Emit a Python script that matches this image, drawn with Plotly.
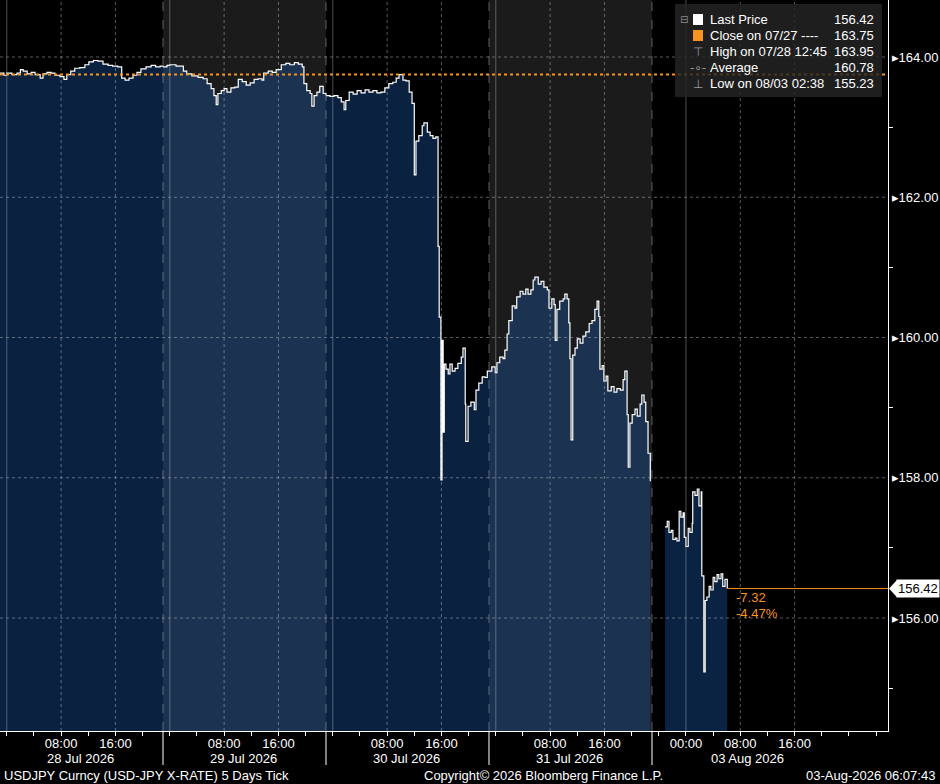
import plotly.graph_objects as go

# USDJPY 5 day tick chart, one list pair per session (sessions roll at 23:00)
YEAR = "2026-"

s1_time = ["07-27 23:00", "07-27 23:35", "07-28 00:00", "07-28 00:45", "07-28 01:30", "07-28 02:00",
           "07-28 02:25", "07-28 03:00", "07-28 03:35", "07-28 04:10", "07-28 04:55", "07-28 05:20",
           "07-28 05:55", "07-28 06:30", "07-28 07:05", "07-28 07:50", "07-28 08:25", "07-28 08:50",
           "07-28 09:25", "07-28 10:00", "07-28 10:45", "07-28 11:30", "07-28 12:05", "07-28 12:45",
           "07-28 13:25", "07-28 14:10", "07-28 14:55", "07-28 15:35", "07-28 16:20", "07-28 16:55",
           "07-28 17:25", "07-28 18:00", "07-28 18:35", "07-28 19:10", "07-28 19:45", "07-28 20:30",
           "07-28 21:15", "07-28 21:55", "07-28 22:35", "07-28 23:00"]
s1_px = [163.77, 163.74, 163.77, 163.75, 163.77, 163.82, 163.80, 163.76, 163.78, 163.75, 163.70, 163.76,
         163.78, 163.77, 163.74, 163.72, 163.68, 163.75, 163.80, 163.84, 163.85, 163.89, 163.93, 163.95,
         163.94, 163.90, 163.88, 163.87, 163.86, 163.70, 163.67, 163.70, 163.74, 163.78, 163.83, 163.86,
         163.88, 163.86, 163.87, 163.86]

s2_time = ["07-28 23:00", "07-28 23:35", "07-29 00:00", "07-29 00:55", "07-29 02:00", "07-29 02:30",
           "07-29 03:15", "07-29 04:10", "07-29 04:55", "07-29 05:30", "07-29 06:05", "07-29 06:30",
           "07-29 06:50", "07-29 07:05", "07-29 07:35", "07-29 08:00", "07-29 08:25", "07-29 09:00",
           "07-29 09:35", "07-29 10:05", "07-29 10:40", "07-29 11:15", "07-29 11:50", "07-29 12:25",
           "07-29 13:00", "07-29 13:35", "07-29 13:50", "07-29 14:30", "07-29 15:05", "07-29 15:40",
           "07-29 16:25", "07-29 17:05", "07-29 17:40", "07-29 18:20", "07-29 18:55", "07-29 19:30",
           "07-29 19:45", "07-29 20:10", "07-29 20:40", "07-29 20:55", "07-29 21:15", "07-29 21:40",
           "07-29 22:05", "07-29 22:35", "07-29 23:00"]
s2_px = [163.86, 163.88, 163.89, 163.87, 163.80, 163.76, 163.73, 163.71, 163.69, 163.62, 163.55, 163.45,
         163.32, 163.48, 163.52, 163.55, 163.50, 163.56, 163.57, 163.68, 163.65, 163.60, 163.63, 163.68,
         163.69, 163.67, 163.77, 163.80, 163.78, 163.82, 163.89, 163.91, 163.89, 163.92, 163.90, 163.86,
         163.62, 163.52, 163.48, 163.30, 163.45, 163.50, 163.58, 163.48, 163.45]

s3_time = ["07-29 23:00", "07-29 23:35", "07-30 00:10", "07-30 00:45", "07-30 01:15", "07-30 01:40",
           "07-30 01:55", "07-30 02:25", "07-30 03:00", "07-30 03:35", "07-30 04:10", "07-30 04:45",
           "07-30 05:20", "07-30 05:55", "07-30 06:30", "07-30 07:05", "07-30 07:40", "07-30 08:15",
           "07-30 08:50", "07-30 09:20", "07-30 09:45", "07-30 10:20", "07-30 10:45", "07-30 11:15",
           "07-30 11:40", "07-30 12:00", "07-30 12:15", "07-30 12:40", "07-30 13:10", "07-30 13:25",
           "07-30 13:55", "07-30 14:20", "07-30 14:45", "07-30 15:10", "07-30 15:30", "07-30 15:40",
           "07-30 15:55", "07-30 16:05", "07-30 16:15", "07-30 16:25", "07-30 16:40", "07-30 17:00",
           "07-30 17:15", "07-30 17:35", "07-30 18:00", "07-30 18:25", "07-30 18:55", "07-30 19:10",
           "07-30 19:30", "07-30 19:35", "07-30 19:55", "07-30 20:20", "07-30 20:50", "07-30 21:05",
           "07-30 21:30", "07-30 22:00", "07-30 22:25", "07-30 22:45", "07-30 23:00"]
s3_px = [163.45, 163.44, 163.45, 163.42, 163.36, 163.25, 163.38, 163.50, 163.47, 163.52, 163.49, 163.53,
         163.50, 163.52, 163.49, 163.50, 163.56, 163.62, 163.64, 163.70, 163.75, 163.67, 163.66, 163.50,
         163.34, 162.32, 162.80, 162.88, 163.02, 163.06, 162.93, 162.88, 162.84, 162.86, 161.30, 160.29,
         157.97, 159.96, 158.65, 159.62, 159.55, 159.48, 159.62, 159.52, 159.56, 159.63, 159.72, 159.85,
         159.05, 158.52, 159.02, 159.08, 158.97, 159.25, 159.35, 159.44, 159.43, 159.52, 159.52]

s4_time = ["07-30 23:00", "07-30 23:25", "07-30 23:55", "07-31 00:10", "07-31 00:35", "07-31 01:05",
           "07-31 01:20", "07-31 01:40", "07-31 01:55", "07-31 02:25", "07-31 02:50", "07-31 03:05",
           "07-31 03:35", "07-31 04:00", "07-31 04:25", "07-31 04:45", "07-31 05:10", "07-31 05:30",
           "07-31 05:45", "07-31 06:15", "07-31 06:40", "07-31 07:05", "07-31 07:35", "07-31 07:50",
           "07-31 08:15", "07-31 08:35", "07-31 08:45", "07-31 09:00", "07-31 09:25", "07-31 09:55",
           "07-31 10:10", "07-31 10:30", "07-31 10:45", "07-31 10:55", "07-31 11:05", "07-31 11:20",
           "07-31 11:40", "07-31 12:00", "07-31 12:25", "07-31 12:50", "07-31 13:15", "07-31 13:45",
           "07-31 14:10", "07-31 14:35", "07-31 14:55", "07-31 15:10", "07-31 15:20", "07-31 15:40",
           "07-31 15:55", "07-31 16:15", "07-31 16:30", "07-31 17:00", "07-31 17:25", "07-31 17:50",
           "07-31 18:20", "07-31 18:45", "07-31 19:00", "07-31 19:20", "07-31 19:30", "07-31 19:45",
           "07-31 20:05", "07-31 20:30", "07-31 20:50", "07-31 21:15", "07-31 21:30", "07-31 21:50",
           "07-31 22:05", "07-31 22:25", "07-31 22:45", "07-31 23:00"]
s4_px = [159.52, 159.58, 159.50, 159.64, 159.72, 159.70, 159.82, 160.05, 160.24, 160.45, 160.42, 160.58,
         160.66, 160.62, 160.69, 160.62, 160.68, 160.82, 160.86, 160.76, 160.80, 160.72, 160.68, 160.42,
         160.55, 160.47, 159.96, 160.40, 160.52, 160.55, 160.62, 160.55, 160.21, 159.70, 158.54, 159.75,
         159.85, 159.98, 159.92, 160.02, 160.08, 160.20, 160.24, 160.40, 160.52, 160.30, 159.55, 159.60,
         159.38, 159.45, 159.24, 159.30, 159.22, 159.27, 159.25, 159.40, 159.52, 158.90, 158.15, 158.78,
         158.90, 158.98, 158.88, 159.05, 159.18, 159.08, 158.80, 158.35, 157.95, 157.70]

s5_time = ["08-02 20:55", "08-02 21:15", "08-02 21:30", "08-02 21:50", "08-02 22:05", "08-02 22:25",
           "08-02 22:40", "08-02 23:00", "08-02 23:15", "08-02 23:35", "08-02 23:45", "08-03 00:00",
           "08-03 00:20", "08-03 00:35", "08-03 00:55", "08-03 01:00", "08-03 01:20", "08-03 01:40",
           "08-03 01:55", "08-03 02:15", "08-03 02:20", "08-03 02:38", "08-03 02:50", "08-03 03:05",
           "08-03 03:25", "08-03 03:40", "08-03 04:00", "08-03 04:15", "08-03 04:35", "08-03 04:50",
           "08-03 05:10", "08-03 05:25", "08-03 05:45", "08-03 06:05"]
s5_px = [157.30, 157.38, 157.22, 157.25, 157.12, 157.14, 157.10, 157.52, 157.44, 157.50, 157.15, 157.02,
         157.28, 157.22, 157.35, 157.80, 157.75, 157.84, 157.60, 157.80, 156.60, 155.23, 156.25, 156.30,
         156.45, 156.40, 156.58, 156.52, 156.62, 156.56, 156.63, 156.45, 156.55, 156.42]

sessions = [(s1_time, s1_px), (s2_time, s2_px), (s3_time, s3_px), (s4_time, s4_px), (s5_time, s5_px)]
session_fill = ["#0b2140", "#1b3350", "#0b2140", "#1b3350", "#0a2342"]
shaded_sessions = [("07-28 23:00", "07-29 23:00"), ("07-30 23:00", "07-31 23:00")]
session_breaks = ["07-28 23:00", "07-29 23:00", "07-30 23:00", "07-31 23:00"]
midnights = ["07-28 00:00", "07-29 00:00", "07-30 00:00", "07-31 00:00", "08-03 00:00"]

tick_times = ["07-28 08:00", "07-28 16:00", "07-29 08:00", "07-29 16:00", "07-30 08:00", "07-30 16:00",
              "07-31 08:00", "07-31 16:00", "08-03 00:00", "08-03 08:00", "08-03 16:00"]
tick_text = ["08:00", "16:00", "08:00", "16:00", "08:00", "16:00", "08:00", "16:00", "00:00", "08:00", "16:00"]
grid_times = ["07-28 08:00", "07-28 16:00", "07-29 08:00", "07-29 16:00", "07-30 08:00", "07-30 16:00",
              "07-31 08:00", "07-31 16:00", "08-03 08:00", "08-03 16:00"]
date_label_at = ["07-28 10:55", "07-29 10:55", "07-30 10:55", "07-31 10:55", "08-03 09:00"]
date_labels = ["28 Jul 2026", "29 Jul 2026", "30 Jul 2026", "31 Jul 2026", "03 Aug 2026"]

y_ticks = [156, 158, 160, 162, 164]
y_minor = [155, 157, 159, 161, 163]

prev_close = 163.75
last_price = 156.42
net_change = "-7.32"
pct_change = "-4.47%"

legend_labels = ["Last Price", "Close on 07/27 ----", "High on 07/28 12:45", "Average", "Low on 08/03 02:38"]
legend_values = ["156.42", "163.75", "163.95", "160.78", "155.23"]
legend_icons = ["", "", "⊤", "-∘-", "⊥"]

X_START = "2026-07-27 23:00"
X_END = "2026-08-04 05:45"

ORANGE = "#f7941d"
FONT = "Liberation Sans, Arial, sans-serif"
PLOT_W, PLOT_H = 888, 731


def d(t):
    return YEAR + t


def px(x):
    return x / PLOT_W


def py(y):
    return 1 - y / PLOT_H


fig = go.Figure()

for (t, p), col in zip(sessions, session_fill):
    fig.add_trace(go.Scatter(
        x=[d(v) for v in t], y=p, mode="lines",
        line=dict(color="white", width=1.2, shape="hv"),
        fill="tozeroy", fillcolor=col, hoverinfo="skip", showlegend=False
    ))

shapes = []
# grey background for alternate sessions
for a, b in shaded_sessions:
    shapes.append(dict(type="rect", xref="x", yref="paper", x0=d(a), x1=d(b), y0=0, y1=1,
                       fillcolor="#1b1b1b", line=dict(width=0), layer="below"))
# horizontal grid
for v in y_ticks:
    shapes.append(dict(type="line", xref="paper", yref="y", x0=0, x1=1, y0=v, y1=v,
                       line=dict(color="rgba(200,200,200,0.45)", width=1, dash="dot"), layer="above"))
# vertical grid
for g in grid_times:
    shapes.append(dict(type="line", xref="x", yref="paper", x0=d(g), x1=d(g), y0=0, y1=1,
                       line=dict(color="rgba(200,200,200,0.45)", width=1, dash="dot"), layer="above"))
for m in midnights:
    shapes.append(dict(type="line", xref="x", yref="paper", x0=d(m), x1=d(m), y0=0, y1=1,
                       line=dict(color="rgba(170,175,185,0.45)", width=1), layer="above"))
for s in session_breaks:
    shapes.append(dict(type="line", xref="x", yref="paper", x0=d(s), x1=d(s), y0=0, y1=1,
                       line=dict(color="rgba(150,150,150,0.6)", width=1, dash="dash"), layer="above"))
    # long separator through the time labels
    shapes.append(dict(type="line", xref="x", yref="paper", x0=d(s), x1=d(s), y0=0, y1=py(765),
                       line=dict(color="white", width=1), layer="above"))

# previous close and last price lines
shapes.append(dict(type="line", xref="paper", yref="y", x0=0, x1=1, y0=prev_close, y1=prev_close,
                   line=dict(color=ORANGE, width=2, dash="dot"), layer="above"))
shapes.append(dict(type="line", xref="x", yref="y", x0=d(s5_time[-1]), x1=X_END, y0=last_price, y1=last_price,
                   line=dict(color=ORANGE, width=1), layer="above"))
# arrow tip of the last price tag
shapes.append(dict(type="path", xref="paper", yref="y",
                   path=f"M {px(889)},{last_price} L {px(897)},{last_price + 0.122} "
                        f"L {px(897)},{last_price - 0.122} Z",
                   fillcolor="white", line=dict(width=0), layer="above"))

# legend box
shapes.append(dict(type="rect", xref="paper", yref="paper", x0=px(675), x1=px(882), y0=py(97), y1=py(4),
                   fillcolor="rgba(36,36,36,0.82)", line=dict(width=0), layer="above"))
shapes.append(dict(type="rect", xref="paper", yref="paper", x0=px(693), x1=px(703), y0=py(25), y1=py(14),
                   fillcolor="white", line=dict(width=0), layer="above"))
shapes.append(dict(type="rect", xref="paper", yref="paper", x0=px(693), x1=px(703), y0=py(41), y1=py(30),
                   fillcolor=ORANGE, line=dict(width=0), layer="above"))

annotations = []
row_y = [19, 35, 52, 68, 84]
for lab, val, icon, ry in zip(legend_labels, legend_values, legend_icons, row_y):
    annotations.append(dict(xref="paper", yref="paper", x=px(708), y=py(ry), text=lab, showarrow=False,
                            xanchor="left", yanchor="middle", font=dict(color="white", size=13, family=FONT)))
    annotations.append(dict(xref="paper", yref="paper", x=px(876), y=py(ry), text=val, showarrow=False,
                            xanchor="right", yanchor="middle", font=dict(color="white", size=13, family=FONT)))
    if icon:
        annotations.append(dict(xref="paper", yref="paper", x=px(698), y=py(ry), text=icon, showarrow=False,
                                xanchor="center", yanchor="middle",
                                font=dict(color="#9a9a9a", size=12, family="DejaVu Sans")))
annotations.append(dict(xref="paper", yref="paper", x=px(684), y=py(19), text="⊟", showarrow=False,
                        xanchor="center", yanchor="middle", font=dict(color="#8a8a8a", size=10, family="DejaVu Sans")))

for at, lab in zip(date_label_at, date_labels):
    annotations.append(dict(xref="x", yref="paper", x=d(at), y=py(758), text=lab, showarrow=False,
                            xanchor="center", yanchor="middle", font=dict(color="white", size=13, family=FONT)))

annotations += [
    dict(xref="x", yref="y", x=d(s5_time[-1]), y=last_price, text=net_change, showarrow=False,
         xanchor="left", yanchor="middle", xshift=7, yshift=-9, font=dict(color=ORANGE, size=13, family=FONT)),
    dict(xref="x", yref="y", x=d(s5_time[-1]), y=last_price, text=pct_change, showarrow=False,
         xanchor="left", yanchor="middle", xshift=7, yshift=-25, font=dict(color=ORANGE, size=13, family=FONT)),
    dict(xref="paper", yref="y", x=px(896), y=last_price, text=f"{last_price:.2f}", showarrow=False,
         xanchor="left", yanchor="middle", bgcolor="white", borderpad=1,
         font=dict(color="black", size=13, family=FONT)),
    dict(xref="paper", yref="paper", x=px(2), y=py(775), text="USDJPY Curncy (USD-JPY X-RATE) 5 Days Tick",
         showarrow=False, xanchor="left", yanchor="middle", font=dict(color="white", size=13, family=FONT)),
    dict(xref="paper", yref="paper", x=px(422), y=py(775), text="Copyright© 2026 Bloomberg Finance L.P.",
         showarrow=False, xanchor="left", yanchor="middle", font=dict(color="white", size=13, family=FONT)),
    dict(xref="paper", yref="paper", x=px(937), y=py(775), text="03-Aug-2026 06:07:43",
         showarrow=False, xanchor="right", yanchor="middle", font=dict(color="white", size=13, family=FONT)),
]

fig.update_layout(
    width=940, height=784,
    margin=dict(l=0, r=52, t=0, b=53, autoexpand=False),
    paper_bgcolor="black", plot_bgcolor="black",
    showlegend=False,
    shapes=shapes, annotations=annotations,
    font=dict(family=FONT, color="white", size=13),
)

fig.update_xaxes(
    type="date", range=[X_START, X_END],
    rangebreaks=[dict(bounds=["2026-07-31 23:00", "2026-08-02 19:00"])],
    tickvals=[d(t) for t in tick_times], ticktext=tick_text,
    ticks="",
    minor=dict(dtick=4 * 3600 * 1000, tick0="2026-07-28 00:00", ticks="outside", ticklen=4,
               tickcolor="white", showgrid=False),
    showgrid=False, zeroline=False,
    showline=True, linecolor="white", linewidth=1,
    tickfont=dict(color="white", size=13, family=FONT),
    fixedrange=True,
)

fig.update_yaxes(
    side="right", range=[154.389, 164.813],
    tickvals=y_ticks, ticktext=[f"▸{v:.2f}" for v in y_ticks], ticks="",
    minor=dict(tickvals=y_minor, ticks="outside", ticklen=4, tickcolor="white", showgrid=False),
    showgrid=False, zeroline=False,
    showline=True, linecolor="white", linewidth=1,
    tickfont=dict(color="white", size=13, family=FONT),
    fixedrange=True,
)

# page has a default body margin; drop it so the chart sits at the window corner
fig.write_html("out.html", config={"displayModeBar": False},
               post_script="document.body.style.margin='0px';")
